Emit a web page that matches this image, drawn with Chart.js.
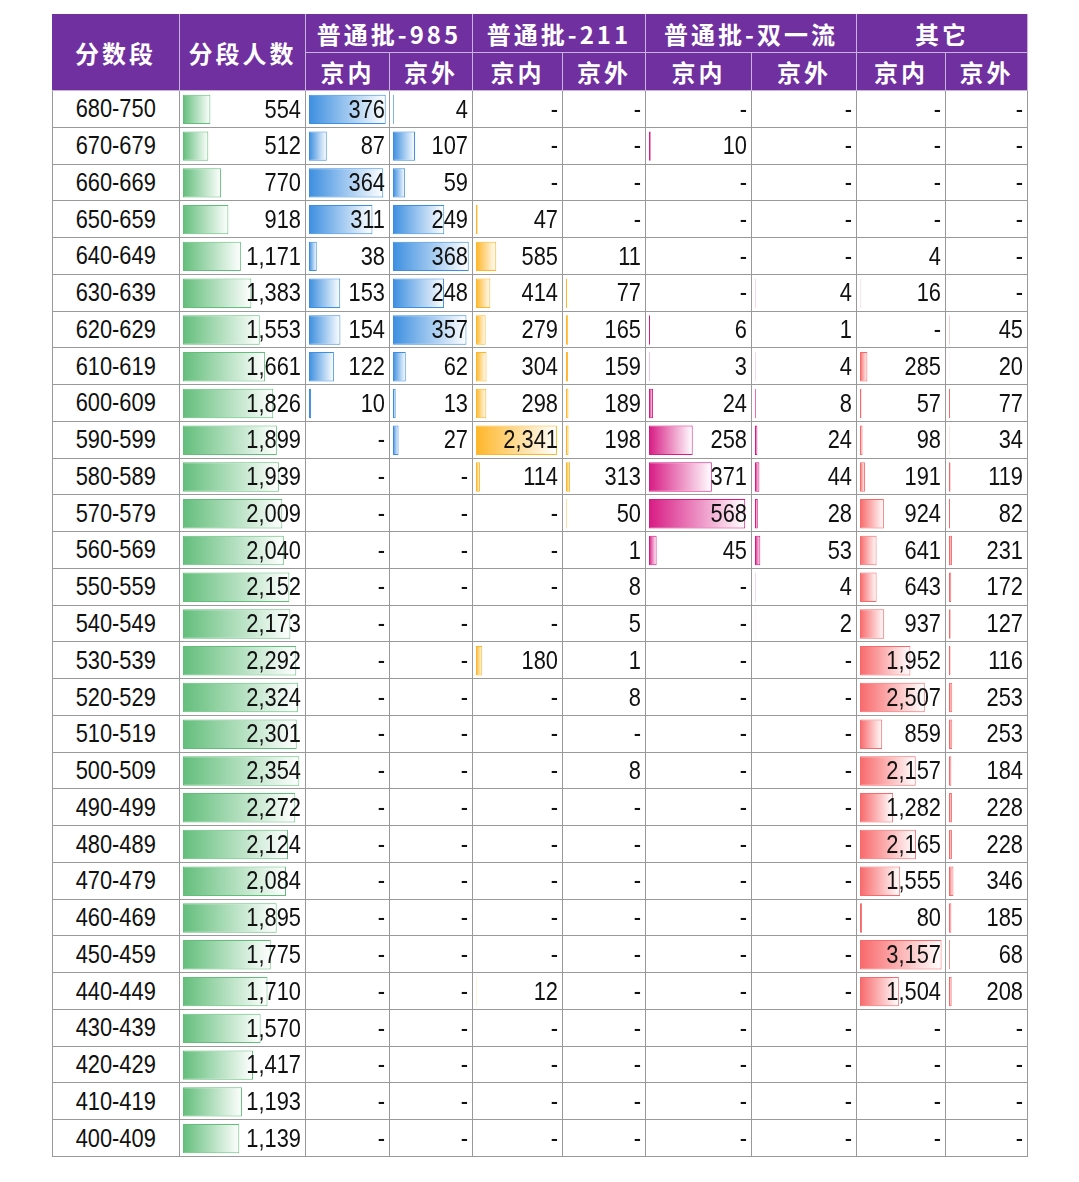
<!DOCTYPE html>
<html><head><meta charset="utf-8">
<script src="https://cdn.jsdelivr.net/npm/chart.js@4/dist/chart.umd.min.js"></script>
<style>
body{margin:0;background:#fff;width:1079px;height:1182px;position:relative;overflow:hidden}
.cell{position:absolute;box-sizing:border-box;display:flex;align-items:center;justify-content:center}
.hd{background:#7030a0;color:#fff;font-family:"Noto Sans CJK SC";font-weight:bold;font-size:24px;letter-spacing:3px;border-right:1px solid #c9b3dc;border-bottom:1px solid #c9b3dc}
.lab{font-family:"Liberation Sans",sans-serif;font-size:26px;border-bottom:1px solid #999;border-right:1px solid #999;color:#111}
.lab span{display:inline-block;transform:scaleX(0.84)}
.cv{position:absolute}
</style></head><body>
<div id="root"></div>
<script>
const scoreBands = ['680-750','670-679','660-669','650-659','640-649','630-639','620-629','610-619','600-609','590-599','580-589','570-579','560-569','550-559','540-549','530-539','520-529','510-519','500-509','490-499','480-489','470-479','460-469','450-459','440-449','430-439','420-429','410-419','400-409'];
const _ = null;
const bandCount = [554,512,770,918,1171,1383,1553,1661,1826,1899,1939,2009,2040,2152,2173,2292,2324,2301,2354,2272,2124,2084,1895,1775,1710,1570,1417,1193,1139];
const p985In  = [376,87,364,311,38,153,154,122,10,_,_,_,_,_,_,_,_,_,_,_,_,_,_,_,_,_,_,_,_];
const p985Out = [4,107,59,249,368,248,357,62,13,27,_,_,_,_,_,_,_,_,_,_,_,_,_,_,_,_,_,_,_];
const p211In  = [_,_,_,47,585,414,279,304,298,2341,114,_,_,_,_,180,_,_,_,_,_,_,_,_,12,_,_,_,_];
const p211Out = [_,_,_,_,11,77,165,159,189,198,313,50,1,8,5,1,8,_,8,_,_,_,_,_,_,_,_,_,_];
const dfcIn   = [_,10,_,_,_,_,6,3,24,258,371,568,45,_,_,_,_,_,_,_,_,_,_,_,_,_,_,_,_];
const dfcOut  = [_,_,_,_,_,4,1,4,8,24,44,28,53,4,2,_,_,_,_,_,_,_,_,_,_,_,_,_,_];
const otherIn = [_,_,_,_,4,16,_,285,57,98,191,924,641,643,937,1952,2507,859,2157,1282,2165,1555,80,3157,1504,_,_,_,_];
const otherOut= [_,_,_,_,_,_,45,20,77,34,119,82,231,172,127,116,253,253,184,228,228,346,185,68,208,_,_,_,_];
const groups = ['普通批-985','普通批-211','普通批-双一流','其它'];
const subs = ['京内','京外'];

const colX = [52,180,306,390,473,563,646,752,857,946,1028];
const top0 = 14, hdMid = 53, dataTop = 91, rowH = (1157-91)/29;
const cols = [
  {data: bandCount, color:'#63be7b', max: 2354*1.04},
  {data: p985In, color:'#3d8fe0', max: 376*1.03},
  {data: p985Out, color:'#3d8fe0', max: 368*1.03},
  {data: p211In, color:'#ffb628', max: 2341*1.05},
  {data: p211Out, color:'#ffb628', max: 6000},
  {data: dfcIn, color:'#d81b84', max: 568*1.05},
  {data: dfcOut, color:'#d81b84', max: 1000},
  {data: otherIn, color:'#f8696b', max: 3157*1.03},
  {data: otherOut, color:'#f8696b', max: 6000},
];
const root = document.getElementById('root');
function cell(cls, x, y, w, h, txt, extra) {
  const d = document.createElement('div');
  d.className = 'cell ' + cls;
  Object.assign(d.style, {left: x+'px', top: y+'px', width: w+'px', height: h+'px'}, extra || {});
  if (txt) {
    const s = document.createElement('span');
    s.textContent = txt;
    d.appendChild(s);
  }
  root.appendChild(d);
  return d;
}
cell('hd', colX[0], top0, colX[1]-colX[0], dataTop-top0, '分数段');
cell('hd', colX[1], top0, colX[2]-colX[1], dataTop-top0, '分段人数');
groups.forEach((g, i) => {
  cell('hd', colX[2+i*2], top0, colX[4+i*2]-colX[2+i*2], hdMid-top0, g);
  subs.forEach((s, j) => cell('hd', colX[2+i*2+j], hdMid, colX[3+i*2+j]-colX[2+i*2+j], dataTop-hdMid, s));
});
scoreBands.forEach((b, r) => {
  const y = dataTop + r*rowH;
  cell('lab', colX[0], y, colX[1]-colX[0], rowH, b, {borderLeft:'1px solid #999'});
  for (let c = 1; c < 10; c++) cell('lab', colX[c], y, colX[c+1]-colX[c], rowH, '');
});

// cell values, narrow look like the original sheet
const valueLabels = {
  id: 'valueLabels',
  afterDatasetsDraw(chart) {
    const c = chart.ctx, meta = chart.getDatasetMeta(0), vals = chart.data.datasets[0].data;
    c.save();
    c.font = '26px "Liberation Sans", sans-serif';
    c.fillStyle = '#111'; c.textAlign = 'right'; c.textBaseline = 'middle';
    c.translate(chart.width - 5, 0);
    c.scale(0.84, 1);
    vals.forEach((v, i) => {
      const t = v == null ? '-' : v.toLocaleString('en-US');
      c.fillText(t, 0, meta.data[i].y + 1);
    });
    c.restore();
  }
};

cols.forEach((col, k) => {
  const wrap = document.createElement('div');
  wrap.className = 'cv';
  const w = colX[k+2]-colX[k+1], h = rowH*29;
  Object.assign(wrap.style, {left: colX[k+1]+'px', top: dataTop+'px', width: w+'px', height: h+'px'});
  const cv = document.createElement('canvas');
  wrap.appendChild(cv); root.appendChild(wrap);
  new Chart(cv, {
    type: 'bar',
    data: {labels: scoreBands, datasets: [{
      data: col.data,
      backgroundColor(ctx) {
        const ch = ctx.chart, area = ch.chartArea;
        if (!area || ctx.raw == null) return col.color;
        const end = ch.scales.x.getPixelForValue(ctx.raw);
        const g = ch.ctx.createLinearGradient(area.left, 0, Math.max(end, area.left+1), 0);
        g.addColorStop(0, col.color); g.addColorStop(1, '#ffffff');
        return g;
      },
      borderColor: col.color, borderWidth: 1, borderSkipped: false,
      categoryPercentage: 1, barPercentage: 0.8,
    }]},
    options: {
      indexAxis: 'y', responsive: true, maintainAspectRatio: false, animation: false,
      layout: {padding: {left: 3, right: 2, top: 0, bottom: 0}},
      scales: {
        x: {display: false, min: 0, max: col.max},
        y: {display: false},
      },
      plugins: {legend: {display: false}, tooltip: {enabled: false}},
    },
    plugins: [valueLabels],
  });
});
</script>
</body></html>
